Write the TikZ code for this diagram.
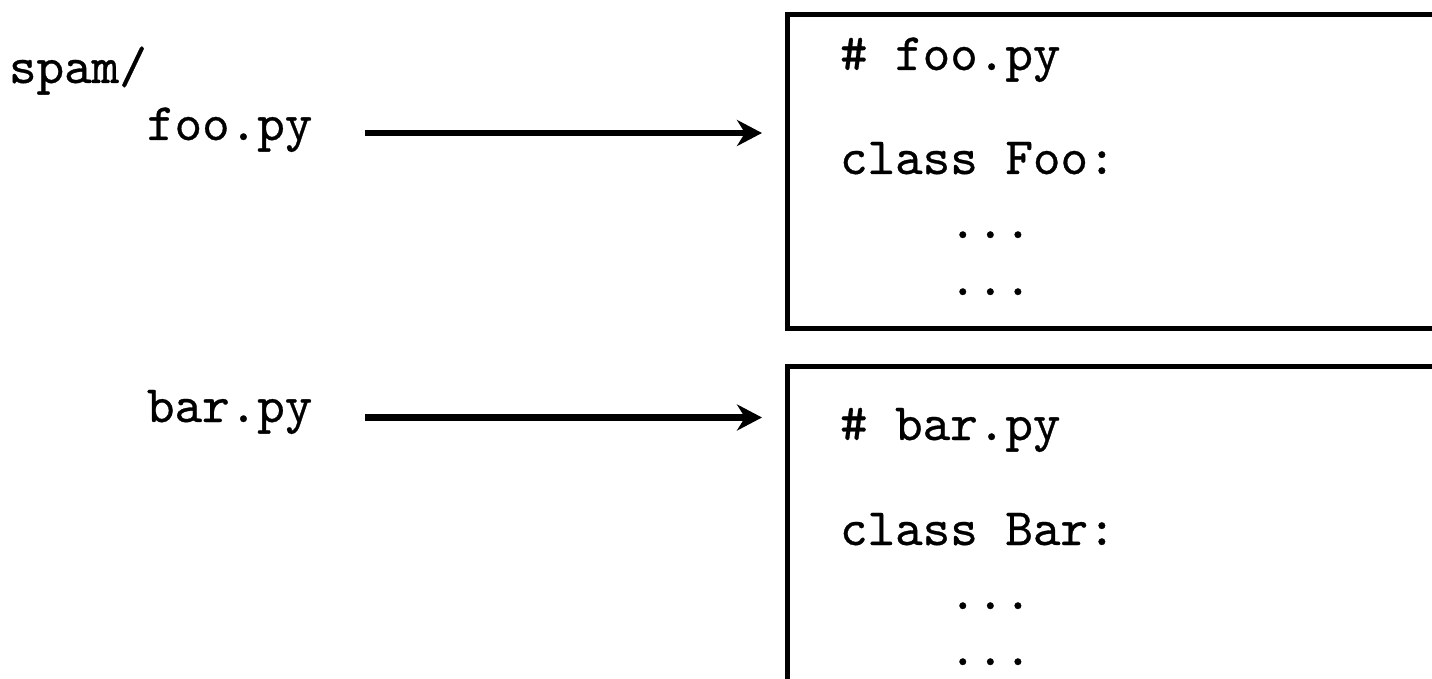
\documentclass[tikz,border=0pt]{standalone}
\usepackage{fontspec}
\newfontfamily\codefont{lmmono10-regular.otf}[FakeBold=0.6]
\usetikzlibrary{arrows.meta}
\begin{document}
\begin{tikzpicture}[x=1pt,y=-1pt,
  txt/.style={inner sep=0pt, outer sep=0pt, anchor=base west, font=\codefont\fontsize{52.5}{60}\selectfont},
  filebox/.style={draw, line width=4.5pt, inner sep=0pt, anchor=north west, minimum width=720pt},
  arr/.style={line width=6.5pt, -{Stealth[length=25pt, width=26pt, inset=8pt]}}]
\clip (0,0) rectangle (1432,679);
\fill[white] (0,0) rectangle (1432,679);
% boxes
\node[filebox, minimum height=313.5pt] (box1) at (785,12.5) {};
\node[filebox, minimum height=400pt] (box2) at (785,364) {};
% left column
\node[txt] (spam) at (9,83) {spam/};
\node[txt] (foo) at (147,140) {foo.py};
\node[txt] (bar) at (147,422) {bar.py};
% box 1 text
\node[txt] (f1) at (840,70) {\# foo.py};
\node[txt] (f2) at (840,174) {class Foo:};
\node[txt] (f3) at (949,238) {...};
\node[txt] (f4) at (949,295) {...};
% box 2 text
\node[txt] (b1) at (840,440) {\# bar.py};
\node[txt] (b2) at (840,545) {class Bar:};
\node[txt] (b3) at (949,609) {...};
\node[txt] (b4) at (949,665) {...};
% arrows
\coordinate (s1) at (365,133);
\coordinate (s2) at (365,417.5);
\draw[arr, shorten >=23pt] (s1) -- (s1 -| box1.west);
\draw[arr, shorten >=23pt] (s2) -- (s2 -| box2.west);
\end{tikzpicture}
\end{document}
